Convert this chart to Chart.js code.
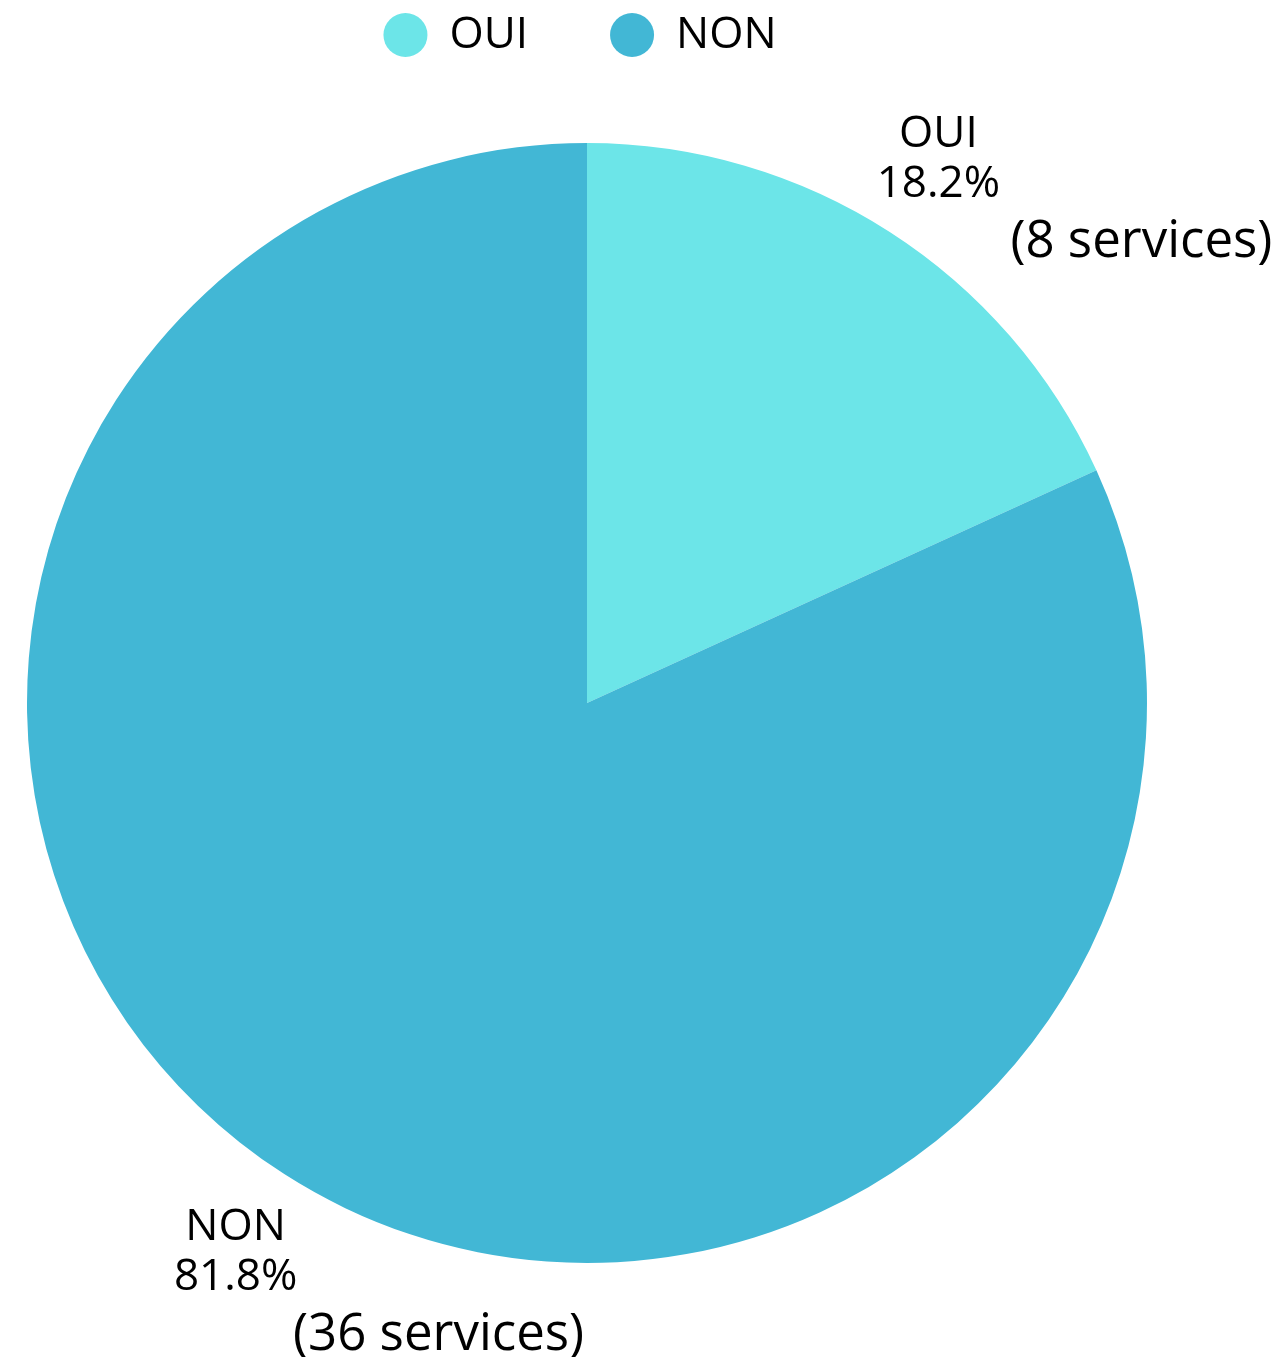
<!DOCTYPE html>
<html>
<head>
<meta charset="utf-8">
<script src="https://cdn.jsdelivr.net/npm/chart.js@4/dist/chart.umd.min.js"></script>
<style>
  html, body { margin: 0; padding: 0; background: #fff; }
  #wrap { width: 1279px; height: 1357px; position: relative; }
</style>
</head>
<body>
<div id="wrap"><canvas id="pie-chart"></canvas></div>
<script>
  'use strict';

  // --- Data ---
  const categories = ["OUI", "NON"];
  const serviceCounts = [8, 36];
  const sliceColors = ["#6ce5e8", "#42b7d5"];

  const FONT = "'Open Sans', 'Noto Sans', sans-serif";

  // --- Outside labels: name + percent, then count below-right ---
  const outsideLabels = {
    id: 'outsideLabels',
    afterLayout(chart) {
      // legend row sits a little left of the pie centre in the original
      if (chart.legend) {
        chart.legend.left -= 7;
        chart.legend.right -= 7;
      }
    },
    afterDatasetsDraw(chart) {
      const ctx = chart.ctx;
      const meta = chart.getDatasetMeta(0);
      const values = chart.data.datasets[0].data;
      const total = values.reduce((a, b) => a + b, 0);

      meta.data.forEach((arc, i) => {
        const p = arc.getProps(['x', 'y', 'startAngle', 'endAngle', 'outerRadius'], true);
        const mid = (p.startAngle + p.endAngle) / 2;
        const r = p.outerRadius + 90;
        const cx = p.x + Math.cos(mid) * r;
        const cy = p.y + Math.sin(mid) * r;
        const pct = (values[i] / total * 100).toFixed(1) + '%';

        ctx.save();
        ctx.fillStyle = '#000';
        ctx.textAlign = 'center';
        ctx.textBaseline = 'middle';
        ctx.font = `44px ${FONT}`;
        ctx.fillText(chart.data.labels[i], cx, cy - 22);
        ctx.fillText(pct, cx, cy + 28);
        ctx.font = `51px ${FONT}`;
        ctx.fillText(`(${values[i]} services)`, cx + 203, cy + 86);
        ctx.restore();
      });
    }
  };

  const ctx = document.getElementById('pie-chart').getContext('2d');
  new Chart(ctx, {
    type: 'pie',
    data: {
      labels: categories,
      datasets: [{
        data: serviceCounts,
        backgroundColor: sliceColors,
        borderWidth: 0
      }]
    },
    options: {
      responsive: true,
      maintainAspectRatio: false,
      animation: false,
      layout: { padding: { top: -69, bottom: 18, left: 27, right: 132 } },
      plugins: {
        legend: {
          display: true,
          position: 'top',
          labels: {
            usePointStyle: true,
            pointStyle: 'circle',
            boxHeight: 31,
            pointStyleWidth: 44,
            padding: 82,
            color: '#000',
            font: { family: FONT, size: 44 }
          }
        },
        tooltip: { enabled: false }
      }
    },
    plugins: [outsideLabels]
  });
</script>
</body>
</html>
